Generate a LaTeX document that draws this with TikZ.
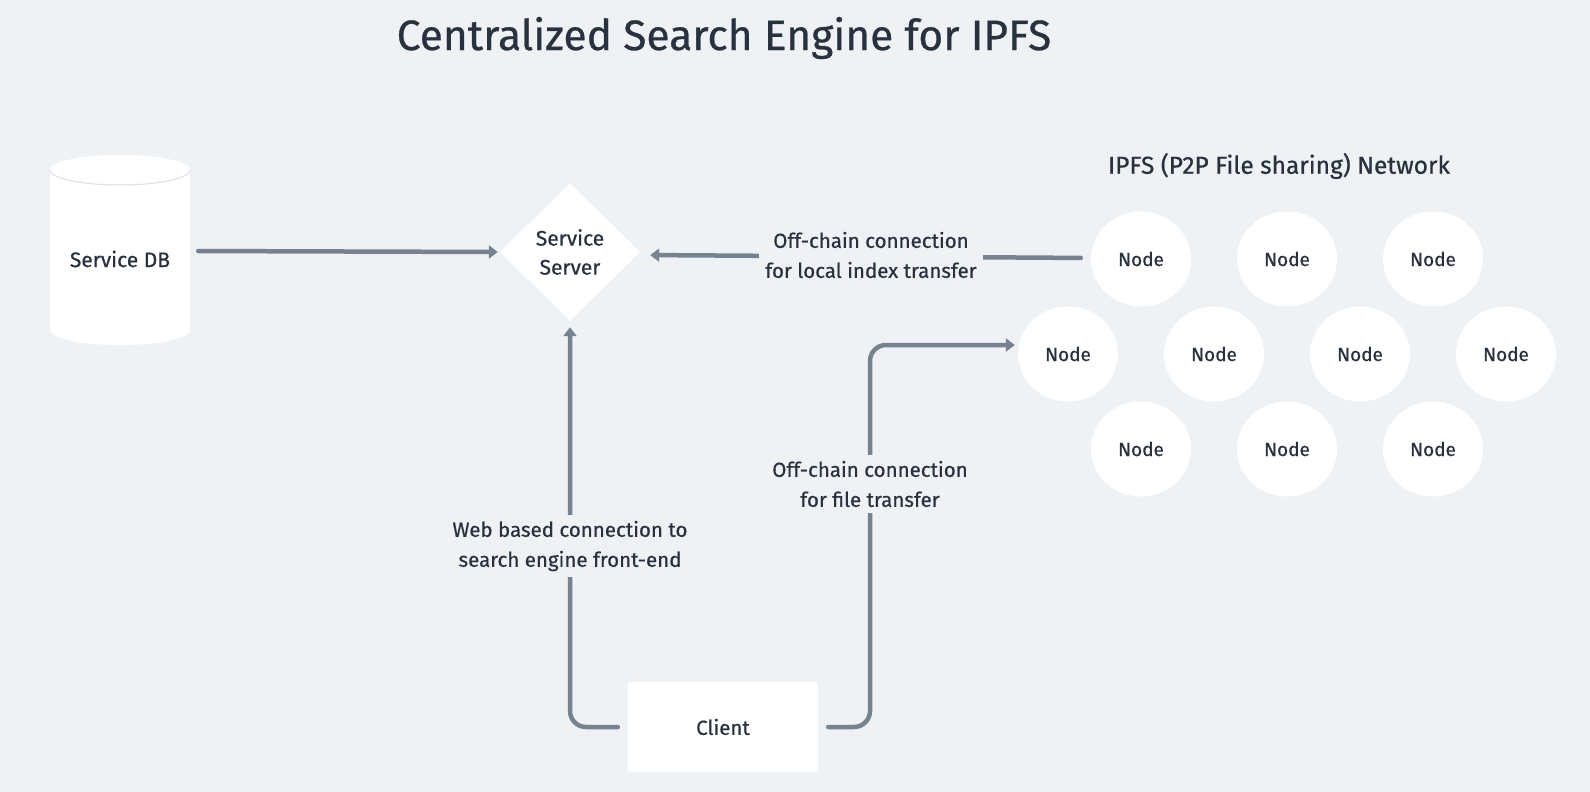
\documentclass[tikz,border=0pt]{standalone}
\usepackage{fontspec}
\setmainfont{Fira Sans}[FakeBold=0.6]
\usetikzlibrary{shapes.geometric,arrows.meta,calc}
\definecolor{bgc}{HTML}{EEF2F5}
\definecolor{linec}{HTML}{778291}
\definecolor{txtc}{HTML}{29313F}
\definecolor{rimc}{HTML}{DCE1E6}
\tikzset{
  conn/.style={draw=linec, line width=4.5pt, line cap=round, -{Triangle[length=9pt,width=13pt]}},
  lbl/.style={fill=bgc, text=txtc, align=center, font=\fontsize{20.5}{30}\selectfont, inner sep=6pt},
  pnode/.style={ellipse, fill=white, minimum width=100pt, minimum height=95pt, text=txtc, font=\fontsize{19}{24}\selectfont},
}
\begin{document}
\begin{tikzpicture}[x=1pt,y=-1pt]
\fill[bgc] (0,0) rectangle (1590,792);
\useasboundingbox (0,0) rectangle (1590,792);

% title
\node[text=txtc, font=\fontsize{42.5}{50}\selectfont] (title) at (724,38) {Centralized Search Engine for IPFS};

% Service DB cylinder
\fill[white] (50,170) -- (50,330) arc[start angle=180, end angle=0, x radius=70, y radius=15] -- (190,170) arc[start angle=0, end angle=-180, x radius=70, y radius=15] -- cycle;
\draw[rimc, line width=1pt] (50,170) arc[start angle=180, end angle=0, x radius=70, y radius=15];
\node[minimum width=140pt, minimum height=190pt] (db) at (120,251) {};
\node[text=txtc, font=\fontsize{21}{24}\selectfont] (dbtext) at (120,259) {Service DB};

% Service Server diamond
\node[diamond, fill=white, minimum width=140pt, minimum height=138pt, inner sep=0pt, align=center, text=txtc, font=\fontsize{21}{29}\selectfont] (srv) at (570,252) {Service\\Server};

% Client
\node[rectangle, rounded corners=3pt, fill=white, minimum width=190pt, minimum height=90pt, text=txtc, font=\fontsize{20.5}{24}\selectfont] (cl) at (723,727) {Client};

% network title
\node[text=txtc, font=\fontsize{24.5}{28}\selectfont] (nettitle) at (1279,166) {IPFS (P2P File sharing) Network};

% IPFS nodes
\node[pnode] (n1) at (1141,259) {Node};
\node[pnode] (n2) at (1287,259) {Node};
\node[pnode] (n3) at (1433,259) {Node};
\node[pnode] (n4) at (1068,354) {Node};
\node[pnode] (n5) at (1214,354) {Node};
\node[pnode] (n6) at (1360,354) {Node};
\node[pnode] (n7) at (1506,354) {Node};
\node[pnode] (n8) at (1141,449) {Node};
\node[pnode] (n9) at (1287,449) {Node};
\node[pnode] (n10) at (1433,449) {Node};

% connectors
\draw[conn, shorten <=8pt, shorten >=2pt] (db.east) -- (srv.west);
\draw[conn, shorten <=10pt, shorten >=10pt] ($(n1.west)+(0,-1)$) -- ($(srv.east)+(0,3)$);
\node[lbl] (l1) at (871,255) {Off-chain connection\\for local index transfer};

\coordinate (turnR) at (870,345);
\draw[conn, rounded corners=16pt, shorten <=10pt, shorten >=3pt] (cl.east) -- (cl.east -| turnR) -- (turnR) -- (n4.west |- turnR);
\node[lbl] (l2) at (870,484) {Off-chain connection\\for file transfer};

\draw[conn, rounded corners=16pt, shorten <=10pt, shorten >=6pt] (cl.west) -- (cl.west -| srv.south) -- (srv.south);
\node[lbl] (l3) at (570,546) {Web based connection to\\search engine front-end};

\end{tikzpicture}
\end{document}
